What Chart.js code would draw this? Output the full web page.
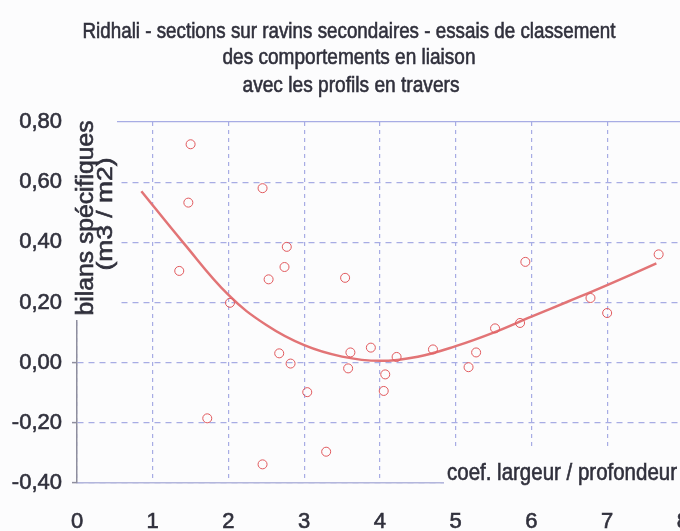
<!DOCTYPE html>
<html>
<head>
<meta charset="utf-8">
<script src="https://cdn.jsdelivr.net/npm/chart.js@4/dist/chart.umd.min.js"></script>
<style>
  html, body { margin: 0; padding: 0; background: #fcfcfd; overflow: hidden; }
  #wrap { position: absolute; left: 0; top: 0; width: 690px; height: 531px; }
</style>
</head>
<body>
<div id="wrap"><canvas id="c" width="690" height="531"></canvas></div>
<script>
// ---- data ----
const titleLines = [
  "Ridhali - sections sur ravins secondaires - essais de classement",
  "des comportements en liaison",
  "avec les profils en travers"
];
const yTitleLines = ["bilans spécifiques", "(m3 / m2)"];
const xTitle = "coef. largeur / profondeur";

const xTicks = [0, 1, 2, 3, 4, 5, 6, 7, 8];
const yTicks = [-0.4, -0.2, 0, 0.2, 0.4, 0.6, 0.8];

// observed points (coef. largeur/profondeur , bilan spécifique)
const ptsX = [1.50, 2.45, 1.47, 2.77, 2.74, 2.53, 1.35, 2.02,
              2.67, 2.82, 3.04, 1.72, 2.45, 3.29,
              3.54, 3.61, 3.58, 3.88, 4.07, 4.05, 4.22, 4.70,
              5.17, 5.27, 5.52, 5.85, 5.92, 6.78, 7.00, 7.68];
const ptsY = [0.726, 0.58, 0.532, 0.385, 0.318, 0.277, 0.305, 0.199,
              0.031, -0.003, -0.098, -0.185, -0.338, -0.296,
              0.282, 0.034, -0.019, 0.050, -0.039, -0.094, 0.019, 0.044,
              -0.015, 0.034, 0.114, 0.132, 0.335, 0.215, 0.165, 0.36];

// fitted trend curve
const fitX = [0.85, 1.4, 2.0, 2.5, 3.0, 3.5, 4.0, 4.5, 5.0, 5.5, 6.0, 6.5, 7.0, 7.65];
const fitY = [0.57, 0.40, 0.225, 0.125, 0.058, 0.02, 0.006, 0.02, 0.055, 0.10, 0.153, 0.205, 0.258, 0.33];

// ---- styling ----
const BG = '#fcfcfd';
const TXT = '#30303c';
const GRID = '#a7ace4';
const SANS = '"Liberation Sans", Arial, sans-serif';

function fitText(ctx, text, cx, cy, w, font, color, rot) {
  ctx.save();
  ctx.font = font;
  ctx.fillStyle = color;
  ctx.strokeStyle = color;
  ctx.lineWidth = 0.6;
  ctx.textAlign = 'center';
  ctx.textBaseline = 'middle';
  const m = ctx.measureText(text).width;
  ctx.translate(cx, cy);
  if (rot) ctx.rotate(rot);
  ctx.scale(w / m, 1);
  ctx.fillText(text, 0, 0);
  ctx.strokeText(text, 0, 0);
  ctx.restore();
}

const textPlugin = {
  id: 'texts',
  beforeDraw(chart) {
    const ctx = chart.ctx;
    ctx.save();
    ctx.fillStyle = BG;
    ctx.fillRect(0, 0, chart.width, chart.height);
    ctx.restore();
  },
  afterDraw(chart) {
    const ctx = chart.ctx;
    ctx.save();
    ctx.fillStyle = BG;
    ctx.fillRect(68, 108, 49, 212);
    ctx.fillRect(444, 450, 246, 40);
    ctx.restore();
    fitText(ctx, titleLines[0], 349, 32, 533, '22px ' + SANS, TXT);
    fitText(ctx, titleLines[1], 349, 58, 253, '22px ' + SANS, TXT);
    fitText(ctx, titleLines[2], 351, 86, 217, '22px ' + SANS, TXT);
    fitText(ctx, yTitleLines[0], 87, 218, 195, '23px ' + SANS, TXT, -Math.PI / 2);
    fitText(ctx, yTitleLines[1], 106, 214, 113, '22px ' + SANS, TXT, -Math.PI / 2);
    fitText(ctx, xTitle, 562, 473, 230, '24px ' + SANS, TXT);
  }
};

const isTop = (c) => c.tick && Math.abs(c.tick.value - 0.8) < 1e-6;

new Chart(document.getElementById('c'), {
  type: 'scatter',
  data: {
    datasets: [
      {
        label: 'tendance',
        type: 'line',
        data: fitX.map((x, i) => ({ x: x, y: fitY[i] })),
        borderColor: '#e27476',
        borderWidth: 2.5,
        pointRadius: 0,
        fill: false,
        tension: 0.4,
        order: 2
      },
      {
        label: 'sections',
        data: ptsX.map((x, i) => ({ x: x, y: ptsY[i] })),
        pointStyle: 'circle',
        pointRadius: 4.5,
        pointBorderWidth: 1,
        borderColor: '#e25a5e',
        backgroundColor: 'rgba(0,0,0,0)',
        showLine: false,
        order: 1
      }
    ]
  },
  options: {
    responsive: false,
    animation: false,
    devicePixelRatio: 1,
    layout: { padding: { top: 122, left: 0, right: 7, bottom: 0 } },
    plugins: {
      legend: { display: false },
      tooltip: { enabled: false },
      title: { display: false }
    },
    scales: {
      x: {
        type: 'linear',
        min: 0, max: 8,
        afterBuildTicks: (s) => { s.ticks = xTicks.map(v => ({ value: v })); },
        afterFit: (s) => { s.height = 48; },
        ticks: {
          padding: 1,
          color: TXT,
          textStrokeColor: TXT,
          textStrokeWidth: 0.6,
          font: { family: SANS, size: 22 },
          callback: (v) => String(v)
        },
        grid: {
          color: GRID,
          lineWidth: 1.2,
          drawTicks: true,
          tickLength: 25,
          tickColor: 'rgba(0,0,0,0)'
        },
        border: { display: true, color: '#b3b6dc', width: 1.5, dash: [4, 4] }
      },
      y: {
        type: 'linear',
        min: -0.4, max: 0.8,
        afterBuildTicks: (s) => { s.ticks = yTicks.map(v => ({ value: v })); },
        afterFit: (s) => { s.width = 77; },
        ticks: {
          padding: 10,
          color: TXT,
          textStrokeColor: TXT,
          textStrokeWidth: 0.6,
          font: { family: SANS, size: 22 },
          callback: (v) => v.toFixed(2).replace('.', ',')
        },
        grid: {
          color: GRID,
          lineWidth: 1.2,
          drawTicks: true,
          tickLength: 5,
          tickColor: '#8e8e9e',
          tickWidth: 1.5
        },
        border: {
          display: true, color: '#8e8e9e', width: 1.5,
          dash: (c) => isTop(c) ? [] : [6, 5]
        }
      }
    }
  },
  plugins: [textPlugin]
});
</script>
</body>
</html>
